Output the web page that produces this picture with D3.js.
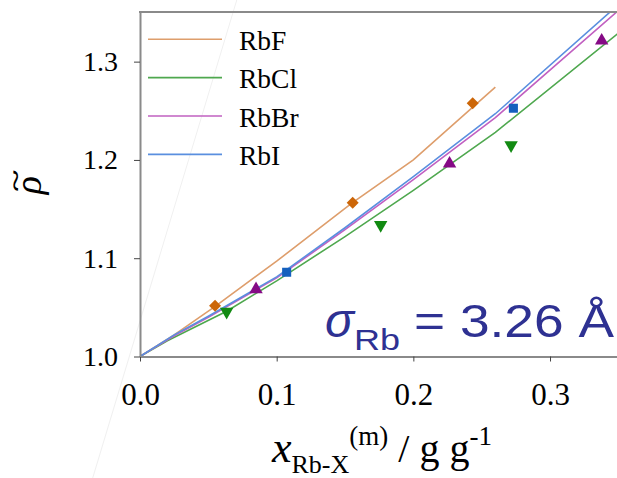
<!DOCTYPE html>
<html>
<head>
<meta charset="utf-8">
<script src="https://cdn.jsdelivr.net/npm/d3@7/dist/d3.min.js"></script>
<style>
  html, body { margin: 0; padding: 0; background: #fff; }
  svg { display: block; }
</style>
</head>
<body>
<svg id="chart" width="617" height="478"></svg>
<script>
// Reduced density vs. mass fraction of rubidium halides
const salts = ["RbF", "RbCl", "RbBr", "RbI"];
const lineColors = ["#DE9E6C", "#4FA84F", "#C160C1", "#5A8FDF"];
const markerColors = ["#CC6608", "#128A12", "#850A85", "#1560BE"];
const markerShapes = ["diamond", "triangleDown", "triangleUp", "square"];

// model curves (x = mass fraction, y = reduced density)
const lineX = {
  RbF:  [0, 0.025, 0.055, 0.10, 0.155, 0.20, 0.26],
  RbCl: [0, 0.02, 0.0634, 0.10, 0.15, 0.20, 0.26, 0.35],
  RbBr: [0, 0.025, 0.05, 0.10, 0.15, 0.20, 0.26, 0.35],
  RbI:  [0, 0.025, 0.05, 0.10, 0.15, 0.20, 0.26, 0.35]
};
const lineY = {
  RbF:  [1.0, 1.022, 1.051, 1.097, 1.156, 1.200, 1.274],
  RbCl: [1.0, 1.016, 1.046, 1.077, 1.122, 1.169, 1.228, 1.329],
  RbBr: [1.0, 1.021, 1.040, 1.080, 1.129, 1.180, 1.243, 1.352],
  RbI:  [1.0, 1.022, 1.041, 1.081, 1.131, 1.183, 1.247, 1.358]
};

// measured points
const pointX = {
  RbF:  [0.0549, 0.1556, 0.2434],
  RbCl: [0.0634, 0.1761, 0.2715],
  RbBr: [0.0849, 0.2265, 0.3378],
  RbI:  [0.1073, 0.2732]
};
const pointY = {
  RbF:  [1.0517, 1.1565, 1.2576],
  RbCl: [1.0456, 1.1338, 1.2150],
  RbBr: [1.0684, 1.1962, 1.3213],
  RbI:  [1.0857, 1.2525]
};

const xTicks = [0.0, 0.1, 0.2, 0.3];
const yTicks = [1.0, 1.1, 1.2, 1.3];
const xDomain = [0, 0.349];
const yDomain = [1.0, 1.3505];

// faint steep trace crossing the left of the frame
const traceX = [-0.0346, 0.0708];
const traceY = [0.8764, 1.3627];

const svg = d3.select("#chart");
const W = 617, H = 478;
const m = { left: 140, right: 617, top: 12, bottom: 356.5 };
const serif = "'Liberation Serif', 'Times New Roman', serif";

const x = d3.scaleLinear().domain(xDomain).range([m.left, m.right]);
const y = d3.scaleLinear().domain(yDomain).range([m.bottom, m.top]);

svg.append("rect").attr("width", W).attr("height", H).attr("fill", "#fff");

// faint trace
svg.append("line")
  .attr("x1", x(traceX[0])).attr("y1", y(traceY[0]))
  .attr("x2", x(traceX[1])).attr("y2", y(traceY[1]))
  .attr("stroke", "#f0f0f0").attr("stroke-width", 1);

svg.append("clipPath").attr("id", "plotClip")
  .append("rect").attr("x", m.left).attr("y", m.top)
  .attr("width", m.right - m.left).attr("height", m.bottom - m.top);

const plot = svg.append("g").attr("clip-path", "url(#plotClip)");

const line = d3.line().x(d => x(d[0])).y(d => y(d[1]));

salts.forEach((s, i) => {
  const pts = lineX[s].map((v, j) => [v, lineY[s][j]]);
  plot.append("path")
    .attr("d", line(pts))
    .attr("fill", "none")
    .attr("stroke", lineColors[i])
    .attr("stroke-width", 1.6);
});

const symbolOf = {
  diamond: d3.symbolSquare,
  square: d3.symbolSquare,
  triangleUp: d3.symbolTriangle,
  triangleDown: d3.symbolTriangle
};
const sizeOf = { diamond: 72, square: 82, triangleUp: 78, triangleDown: 78 };
const rotOf = { diamond: 45, square: 0, triangleUp: 0, triangleDown: 180 };

salts.forEach((s, i) => {
  const shape = markerShapes[i];
  const sym = d3.symbol().type(symbolOf[shape]).size(sizeOf[shape]);
  pointX[s].forEach((v, j) => {
    plot.append("path")
      .attr("d", sym())
      .attr("transform", `translate(${x(v)},${y(pointY[s][j])}) rotate(${rotOf[shape]})`)
      .attr("fill", markerColors[i]);
  });
});

// axes
const axisColor = "#8a8a8a";
const xAxis = d3.axisBottom(x).tickValues(xTicks).tickSize(5).tickSizeOuter(0)
  .tickPadding(21).tickFormat(d3.format(".1f"));
const yAxis = d3.axisLeft(y).tickValues(yTicks).tickSize(6).tickSizeOuter(0)
  .tickPadding(16).tickFormat(d3.format(".1f"));

const gx = svg.append("g").attr("transform", `translate(0,${m.bottom})`).call(xAxis);
const gy = svg.append("g").attr("transform", `translate(${m.left},0)`).call(yAxis);

[gx, gy].forEach(g => {
  g.select(".domain").attr("stroke", axisColor).attr("stroke-width", 2);
  g.selectAll(".tick line").attr("stroke", "#444").attr("stroke-width", 1);
  g.selectAll(".tick text").attr("fill", "#000").style("font-family", serif);
});
gx.selectAll(".tick text").style("font-size", "31px");
gy.selectAll(".tick text").style("font-size", "28px");

// top frame line
svg.append("line")
  .attr("x1", m.left - 1).attr("x2", m.right).attr("y1", m.top).attr("y2", m.top)
  .attr("stroke", axisColor).attr("stroke-width", 2);

// legend
const legend = svg.append("g");
salts.forEach((s, i) => {
  const ly = 39.3 + i * 38.35;
  legend.append("line")
    .attr("x1", 148).attr("x2", 222).attr("y1", ly).attr("y2", ly)
    .attr("stroke", lineColors[i]).attr("stroke-width", 1.6);
  legend.append("text")
    .attr("x", 239).attr("y", ly + 10.5)
    .style("font-family", serif)
    .style("font-size", "27.5px")
    .attr("fill", "#000")
    .text(s);
});

// y title: rho with a tilde over it, turned to read upwards
const yt = svg.append("g").attr("transform", "translate(41,185) rotate(-90)")
  .style("font-family", serif).style("font-style", "italic").attr("fill", "#000");
yt.append("text").attr("text-anchor", "middle").style("font-size", "38px").text("\u03C1");
yt.append("text")
  .attr("transform", "translate(4,-26) scale(2,1.15)")
  .attr("text-anchor", "middle").attr("dominant-baseline", "central")
  .style("font-size", "20px").style("font-weight", "bold").text("~");

// x title
const xt = svg.append("text")
  .attr("x", 272).attr("y", 462)
  .style("font-family", serif)
  .style("font-size", "40px")
  .attr("fill", "#000");
xt.append("tspan").style("font-style", "italic").style("font-size", "44px").text("x");
xt.append("tspan").attr("dy", 11).style("font-size", "26px").text("Rb-X");
xt.append("tspan").attr("dy", -28).style("font-size", "27px").text("(m)");
xt.append("tspan").attr("dy", 17).text(" / g g");
xt.append("tspan").attr("dy", -17).style("font-size", "27px").text("-1");

// sigma annotation
const sigColor = "#2E3192";
const sig = svg.append("g").attr("fill", sigColor)
  .style("font-family", "'Liberation Sans', Arial, sans-serif");
sig.append("text").attr("x", 325).attr("y", 336.5)
  .style("font-size", "48px").style("font-style", "italic").text("\u03C3");
sig.append("text").attr("x", 354).attr("y", 350)
  .style("font-size", "30px")
  .attr("textLength", 46).attr("lengthAdjust", "spacingAndGlyphs")
  .text("Rb");
sig.append("text").attr("x", 414).attr("y", 336.5)
  .style("font-size", "47px")
  .attr("textLength", 200).attr("lengthAdjust", "spacingAndGlyphs")
  .text("= 3.26 Å");
</script>
</body>
</html>
